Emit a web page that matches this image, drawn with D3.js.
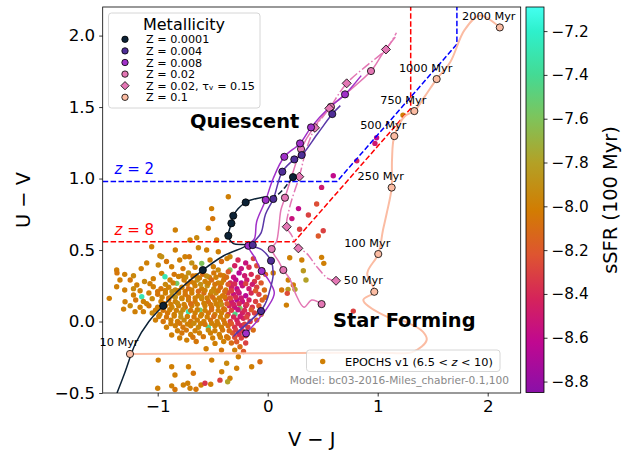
<!DOCTYPE html>
<html><head><meta charset="utf-8">
<script src="https://cdn.jsdelivr.net/npm/d3@7"></script>
<style>body{margin:0;background:#fff}svg{display:block}text{font-family:"DejaVu Sans",sans-serif}</style>
</head><body>
<script>
// ---------- data ----------
const xTicks = [-1, 0, 1, 2];
const yTicks = [-0.5, 0, 0.5, 1, 1.5, 2];
const cbTicks = [-8.8, -8.6, -8.4, -8.2, -8.0, -7.8, -7.6, -7.4, -7.2];
const cbStops = [[-8.85,"#8a10a8"],[-8.62,"#c00890"],[-8.42,"#d5245a"],[-8.22,"#de5530"],[-8.02,"#d27c02"],[-7.8,"#b3a126"],[-7.6,"#7fc35a"],[-7.4,"#44da94"],[-7.2,"#2ef0cc"],[-7.09,"#44fff0"]];

// EPOCHS galaxies: [V-J, U-V, log sSFR]
const galaxies = [
[-0.358,0.873,-8.0],[-0.51,0.79,-8.0],[-0.5,0.72,-8.05],[-0.84,0.64,-8.0],[-0.54,0.652,-8.0],[-0.645,0.586,-7.95],[-0.706,0.57,-8.0],[-0.464,0.57,-8.05],[-0.84,0.5,-8.0],[-0.63,0.516,-7.95],[-0.98,0.46,-8.0],[-0.713,0.453,-8.05],[-1.055,0.523,-8.0],[-0.964,0.453,-7.9],[-0.752,0.453,-8.0],[-0.555,0.5,-8.0],[-0.449,0.488,-8.0],[-0.343,0.453,-7.95],
[-1.1,0.41,-8.0],[-0.92,0.42,-8.05],[-0.80,0.43,-8.0],[-0.69,0.41,-7.9],[-0.6,0.407,-7.6],[-0.524,0.43,-8.0],[-0.42,0.42,-8.1],[-0.37,0.44,-8.0],[-0.27,0.43,-8.4],[-0.2,0.41,-8.55],[-0.13,0.44,-8.3],
[-1.373,0.36,-8.0],[-1.37,0.34,-8.05],[-1.15,0.37,-8.0],[-0.995,0.395,-7.95],[-0.873,0.383,-8.0],[-0.77,0.37,-8.05],[-0.66,0.38,-8.0],[-0.494,0.383,-8.0],[-0.45,0.36,-7.95],[-0.343,0.36,-7.6],[-0.3,0.39,-8.45],[-0.24,0.37,-8.55],[-0.17,0.38,-8.4],[-0.1,0.39,-8.25],[-0.05,0.36,-8.15],
[-1.3,0.33,-8.0],[-1.22,0.32,-7.95],[-0.964,0.337,-8.0],[-0.934,0.313,-7.3],[-0.85,0.33,-8.05],[-0.78,0.32,-8.0],[-0.72,0.34,-7.9],[-0.65,0.32,-8.0],[-0.59,0.33,-8.1],[-0.53,0.31,-8.0],[-0.49,0.34,-8.05],[-0.40,0.32,-8.0],[-0.358,0.348,-8.2],[-0.31,0.31,-8.55],[-0.26,0.34,-8.65],[-0.21,0.32,-8.5],[-0.15,0.33,-8.4],[-0.09,0.31,-8.3],[-0.02,0.33,-8.2],
[-1.343,0.29,-8.0],[-1.25,0.29,-8.05],[-1.19,0.255,-8.0],[-1.12,0.28,-7.95],[-1.04,0.3,-8.0],[-0.888,0.29,-8.0],[-0.827,0.267,-7.55],[-0.76,0.29,-8.0],[-0.7,0.28,-8.05],[-0.64,0.29,-7.9],[-0.57,0.28,-8.0],[-0.51,0.29,-8.1],[-0.45,0.27,-8.0],[-0.4,0.29,-8.05],[-0.34,0.27,-8.4],[-0.29,0.29,-8.6],[-0.24,0.27,-8.65],[-0.19,0.29,-8.5],[-0.12,0.28,-8.35],[-0.06,0.27,-8.2],
[-1.373,0.243,-8.0],[-1.3,0.22,-8.0],[-1.22,0.23,-7.95],[-1.04,0.243,-8.0],[-0.97,0.23,-8.05],[-0.9,0.24,-8.0],[-0.84,0.22,-7.95],[-0.78,0.24,-8.0],[-0.72,0.23,-8.1],[-0.66,0.25,-8.0],[-0.6,0.23,-8.0],[-0.55,0.25,-7.9],[-0.49,0.23,-8.0],[-0.43,0.24,-8.1],[-0.38,0.22,-8.0],[-0.33,0.24,-8.45],[-0.28,0.23,-8.65],[-0.23,0.25,-8.55],[-0.17,0.23,-8.5],[-0.1,0.24,-8.3],[-0.03,0.22,-8.1],
[-1.44,0.162,-8.0],[-1.22,0.185,-8.0],[-1.145,0.173,-7.3],[-1.08,0.2,-8.0],[-1.0,0.19,-8.05],[-0.93,0.2,-8.0],[-0.87,0.18,-7.9],[-0.81,0.2,-8.0],[-0.75,0.19,-8.05],[-0.69,0.2,-8.0],[-0.63,0.18,-8.0],[-0.58,0.2,-8.1],[-0.52,0.19,-8.0],[-0.47,0.2,-7.95],[-0.41,0.18,-8.05],[-0.36,0.2,-8.3],[-0.31,0.19,-8.55],[-0.26,0.2,-8.6],[-0.2,0.18,-8.65],[-0.15,0.2,-8.4],[-0.08,0.19,-8.3],[-0.02,0.17,-8.1],
[-1.297,0.138,-8.0],[-1.2,0.15,-8.05],[-1.13,0.14,-8.0],[-1.05,0.16,-7.95],[-0.97,0.14,-8.0],[-0.9,0.15,-8.05],[-0.84,0.14,-8.0],[-0.78,0.16,-7.9],[-0.72,0.15,-8.0],[-0.66,0.14,-8.05],[-0.6,0.16,-8.0],[-0.54,0.14,-8.1],[-0.48,0.15,-8.0],[-0.43,0.14,-8.0],[-0.38,0.16,-8.3],[-0.33,0.14,-8.5],[-0.28,0.15,-8.65],[-0.23,0.14,-8.55],[-0.17,0.15,-8.45],[-0.11,0.14,-8.3],[-0.05,0.15,-8.15],
[-1.31,0.087,-8.0],[-1.25,0.11,-7.95],[-1.16,0.1,-8.0],[-1.08,0.11,-8.05],[-1.0,0.1,-8.0],[-0.93,0.11,-8.0],[-0.87,0.1,-7.95],[-0.81,0.11,-8.0],[-0.75,0.1,-8.05],[-0.69,0.11,-8.0],[-0.615,0.08,-7.55],[-0.57,0.11,-8.0],[-0.51,0.1,-8.05],[-0.45,0.11,-8.0],[-0.4,0.09,-8.1],[-0.35,0.11,-8.4],[-0.3,0.1,-8.55],[-0.252,0.092,-7.6],[-0.2,0.11,-8.45],[-0.14,0.1,-8.35],[-0.08,0.11,-8.2],
[-1.206,0.069,-8.0],[-1.13,0.069,-8.0],[-1.05,0.06,-7.95],[-0.98,0.05,-8.0],[-0.91,0.06,-8.05],[-0.85,0.05,-8.0],[-0.79,0.06,-7.9],[-0.72,0.069,-7.3],[-0.66,0.06,-8.0],[-0.6,0.05,-8.0],[-0.54,0.06,-8.05],[-0.48,0.05,-8.0],[-0.42,0.06,-8.0],[-0.36,0.05,-8.3],[-0.297,0.052,-7.45],[-0.23,0.06,-8.45],[-0.18,0.05,-8.4],[-0.12,0.06,-8.3],[-0.06,0.05,-8.1],
[-1.02,0.01,-8.0],[-0.95,0.0,-8.05],[-0.88,0.01,-8.0],[-0.82,0.0,-8.0],[-0.76,0.01,-7.95],[-0.7,0.0,-8.05],[-0.64,0.01,-8.0],[-0.58,0.0,-8.0],[-0.52,0.01,-8.1],[-0.46,0.0,-8.0],[-0.4,0.01,-8.05],[-0.34,0.0,-8.3],[-0.28,0.01,-8.45],[-0.222,0.022,-8.4],[-0.16,0.0,-8.35],[-0.1,0.01,-8.2],
[-0.92,-0.04,-8.0],[-0.84,-0.03,-8.0],[-0.77,-0.04,-8.05],[-0.7,-0.03,-8.0],[-0.63,-0.04,-7.95],[-0.54,-0.04,-7.4],[-0.48,-0.03,-8.0],[-0.42,-0.04,-8.0],[-0.36,-0.03,-8.1],[-0.3,-0.04,-8.35],[-0.24,-0.03,-8.45],[-0.18,-0.04,-8.35],[-0.131,-0.06,-8.1],
[-0.873,-0.094,-8.0],[-0.78,-0.08,-8.05],[-0.7,-0.09,-8.0],[-0.62,-0.08,-8.0],[-0.585,-0.106,-8.05],[-0.52,-0.08,-8.0],[-0.44,-0.09,-8.0],[-0.373,-0.106,-8.05],[-0.32,-0.08,-8.2],[-0.26,-0.09,-8.4],[-0.2,-0.1,-8.3],
[-0.736,-0.13,-8.0],[-0.65,-0.14,-8.05],[-0.479,-0.153,-8.0],[-0.4,-0.14,-8.0],[-0.33,-0.15,-8.1],[-0.282,-0.141,-8.2],[-0.252,-0.176,-8.1],[-0.2,-0.15,-8.3],
[-0.56,-0.19,-8.0],[-0.42,-0.2,-8.05],[-0.3,-0.2,-8.0],[-0.22,-0.21,-8.2],[-0.267,-0.246,-8.0],
[-0.81,0.315,-8.0],[-0.745,0.31,-7.95],[-0.68,0.318,-8.05],[-0.62,0.305,-8.0],[-0.555,0.318,-7.9],[-0.47,0.31,-8.0],[-0.43,0.325,-8.05],[-0.375,0.31,-8.1],
[-1.07,0.265,-8.0],[-0.93,0.26,-7.95],[-0.86,0.27,-8.0],[-0.73,0.262,-8.05],[-0.67,0.27,-8.0],[-0.61,0.26,-7.9],[-0.54,0.268,-8.0],[-0.48,0.26,-8.05],[-0.42,0.27,-8.0],[-0.36,0.26,-8.2],[-0.3,0.262,-8.4],[-0.2,0.265,-8.3],[-0.14,0.26,-8.5],
[-1.16,0.215,-8.0],[-1.0,0.21,-8.05],[-0.93,0.218,-8.0],[-0.87,0.21,-7.9],[-0.81,0.215,-8.0],[-0.75,0.21,-8.05],[-0.69,0.22,-8.0],[-0.63,0.212,-8.1],[-0.57,0.218,-8.0],[-0.51,0.21,-7.95],[-0.45,0.215,-8.05],[-0.39,0.21,-8.1],[-0.33,0.215,-8.3],[-0.27,0.21,-8.5],[-0.11,0.215,-8.2],
[-0.96,0.17,-8.0],[-0.9,0.165,-8.05],[-0.84,0.172,-7.9],[-0.78,0.165,-8.0],[-0.72,0.17,-8.05],[-0.66,0.165,-8.0],[-0.6,0.172,-7.95],[-0.55,0.165,-8.0],[-0.5,0.17,-8.1],[-0.44,0.165,-8.0],[-0.39,0.172,-8.05],[-0.34,0.165,-8.25],[-0.29,0.17,-8.4],[-0.24,0.165,-8.5],
[-1.1,0.125,-8.0],[-0.94,0.125,-8.05],[-0.88,0.12,-8.0],[-0.82,0.128,-7.95],[-0.76,0.12,-8.0],[-0.7,0.125,-8.1],[-0.64,0.12,-8.0],[-0.58,0.128,-8.0],[-0.52,0.12,-8.05],[-0.47,0.125,-8.0],[-0.42,0.12,-7.9],[-0.37,0.125,-8.2],[-0.31,0.12,-8.45],[-0.26,0.125,-8.4],[-0.19,0.12,-8.35],
[-1.02,0.08,-8.0],[-0.95,0.078,-8.05],[-0.89,0.082,-8.0],[-0.83,0.078,-8.0],[-0.77,0.082,-7.95],[-0.7,0.078,-8.05],[-0.64,0.082,-8.0],[-0.57,0.078,-8.0],[-0.51,0.082,-8.1],[-0.45,0.078,-8.0],[-0.39,0.082,-8.05],[-0.33,0.078,-8.3],[-0.27,0.082,-8.55],[-0.21,0.078,-8.4],[-0.15,0.082,-8.2],
[-0.99,0.035,-8.0],[-0.92,0.032,-8.05],[-0.85,0.038,-8.0],[-0.79,0.032,-7.9],[-0.73,0.035,-8.0],[-0.67,0.032,-8.05],[-0.61,0.038,-8.0],[-0.55,0.032,-8.0],[-0.49,0.035,-8.1],[-0.43,0.032,-8.0],[-0.37,0.038,-8.05],[-0.31,0.032,-8.4],[-0.25,0.035,-8.5],[-0.19,0.032,-8.3],
[-0.88,-0.015,-8.0],[-0.8,-0.012,-8.05],[-0.73,-0.018,-8.0],[-0.67,-0.012,-7.95],[-0.61,-0.015,-8.0],[-0.57,-0.02,-8.05],[-0.51,-0.012,-8.0],[-0.45,-0.018,-8.0],[-0.39,-0.012,-8.05],[-0.33,-0.015,-8.2],[-0.27,-0.012,-8.4],[-0.21,-0.018,-8.3],
[-0.82,-0.065,-8.0],[-0.74,-0.06,-8.05],[-0.66,-0.065,-8.0],[-0.54,-0.06,-7.95],[-0.48,-0.065,-8.0],[-0.41,-0.06,-8.05],[-0.35,-0.065,-8.1],[-0.29,-0.06,-8.3],[-0.23,-0.065,-8.35],
[-0.8,-0.115,-8.0],[-0.68,-0.11,-8.05],[-0.5,-0.115,-8.0],[-0.43,-0.11,-8.0],[-0.36,-0.115,-8.05],[-0.3,-0.11,-8.25],[-0.24,-0.115,-8.3],
[-0.995,-0.27,-8.0],[-0.873,-0.316,-8.0],[-0.72,-0.316,-8.0],[-0.676,-0.362,-8.05],[-0.509,-0.27,-8.0],[-0.373,-0.292,-7.95],[-0.282,-0.327,-8.0],[-0.146,-0.316,-8.0],[-0.07,-0.281,-8.1],[-0.418,-0.351,-8.0],[-0.843,-0.374,-8.0],[-0.343,-0.397,-8.0],[-0.434,-0.41,-8.3],
[-1.0,-0.467,-8.0],[-0.873,-0.45,-8.0],[-0.843,-0.475,-8.05],[-0.767,-0.444,-8.0],[-0.727,-0.432,-8.0],[-0.706,-0.467,-8.0],[-0.652,-0.474,-8.05],[-0.606,-0.444,-8.0],[-0.57,-0.432,-8.35],[-0.518,-0.439,-8.0],[-0.364,-0.421,-7.8],
[0.05,0.34,-8.0],[0.127,0.22,-8.05],[0.17,0.115,-8.0],
[0.2,0.446,-8.0],[0.31,0.43,-8.0],[0.49,0.449,-8.0],[0.51,0.407,-8.0],[0.324,0.355,-7.85],[0.348,0.29,-7.8],[0.187,0.29,-8.0],[0.233,0.255,-8.0],[0.185,0.225,-7.85],[0.248,0.225,-7.8],[0.178,0.197,-8.25],[0.778,0.073,-8.3],
[0.445,0.822,-8.25],[0.37,0.745,-8.3],[0.28,0.79,-8.6],[0.22,0.72,-8.55],[0.29,0.645,-8.3],[0.46,0.598,-8.2],[0.505,0.635,-8.3],[0.99,1.285,-8.6],[0.975,1.246,-8.5],[0.81,1.124,-8.45],[0.596,1.02,-8.6],[0.49,0.938,-8.5],[1.23,1.444,-8.0]
];

// Selection boundaries [V-J, U-V]
const boundaryZ2 = [[-1.5,0.98],[0.63,0.98],[1.72,1.94],[1.72,2.2]];
const boundaryZ8 = [[-1.5,0.558],[0.24,0.558],[1.30,1.49],[1.30,2.2]];

// Model tracks (bc03) [V-J, U-V]
const trackZ0001 = [[-1.37,-0.5],[-1.3,-0.36],[-1.2,-0.15],[-1.08,0.0],[-0.95,0.11],[-0.78,0.24],[-0.59,0.36],[-0.4,0.46],[-0.19,0.535],[-0.315,0.547],[-0.358,0.60],[-0.33,0.687],[-0.313,0.74],[-0.2,0.833],[-0.043,0.87]];
const trackZ0001Late = [[-0.043,0.87],[0.075,0.88],[0.185,0.965],[0.23,1.01]];
const markZ0001 = [[-0.95,0.11],[-0.59,0.36],[-0.358,0.60],[-0.33,0.687],[-0.313,0.74],[-0.2,0.833],[0.23,1.01]];
const trackZ004 = [[-0.061,0.073],[-0.31,-0.105],[-0.29,-0.085],[-0.04,0.1],[0.02,0.22],[0.05,0.33],[0.03,0.425],[-0.05,0.5],[-0.136,0.535],[-0.06,0.62],[-0.02,0.75],[0.051,0.857],[0.133,1.048],[0.242,1.134],[0.309,1.164],[0.45,1.31],[0.587,1.451],[0.66,1.51]];
const markZ004 = [[-0.061,0.073],[0.03,0.425],[-0.136,0.535],[0.051,0.857],[0.133,1.048],[0.242,1.134],[0.309,1.164],[0.587,1.451]];
const trackZ008 = [[-0.197,-0.083],[-0.1,0.0],[0.0,0.1],[0.06,0.2],[0.0,0.3],[-0.055,0.353],[-0.12,0.45],[-0.176,0.53],[-0.12,0.58],[-0.1,0.7],[-0.018,0.85],[0.05,1.0],[0.151,1.152],[0.294,1.246],[0.394,1.358],[0.55,1.49],[0.703,1.589],[0.85,1.72]];
const markZ008 = [[-0.197,-0.083],[-0.055,0.353],[-0.176,0.53],[-0.018,0.85],[0.151,1.152],[0.294,1.246],[0.394,1.358],[0.703,1.589]];
const trackZ02 = [[0.49,0.122],[0.4,0.15],[0.33,0.1],[0.25,0.2],[0.2,0.3],[0.142,0.36],[0.1,0.42],[0.036,0.507],[0.08,0.56],[0.1,0.65],[0.12,0.78],[0.157,0.866],[0.22,1.02],[0.303,1.206],[0.42,1.36],[0.575,1.502],[0.72,1.6],[0.939,1.752],[1.05,1.88],[1.16,1.99]];
const markZ02 = [[0.49,0.122],[0.142,0.36],[0.036,0.507],[0.157,0.866],[0.303,1.206],[0.575,1.502],[0.939,1.752]];
const trackZ02dust = [[0.621,0.285],[0.55,0.3],[0.45,0.38],[0.35,0.48],[0.279,0.512],[0.22,0.6],[0.173,0.663],[0.2,0.8],[0.287,1.013],[0.35,1.2],[0.43,1.355],[0.56,1.491],[0.718,1.666],[0.9,1.79],[1.075,1.903],[1.17,2.02]];
const markZ02dust = [[0.621,0.285],[0.279,0.512],[0.173,0.663],[0.287,1.013],[0.43,1.355],[0.56,1.491],[0.718,1.666],[1.075,1.903]];
const trackZ1 = [[-1.252,-0.227],[0.0,-0.222],[1.0,-0.217],[1.32,-0.212],[1.445,-0.129],[1.41,-0.071],[1.248,-0.001],[1.082,0.034],[0.869,0.15],[0.969,0.208],[0.905,0.337],[1.005,0.472],[1.048,0.64],[1.082,0.757],[1.127,0.937],[1.13,1.13],[1.151,1.297],[1.248,1.437],[1.333,1.472],[1.43,1.577],[1.536,1.696],[1.66,1.815],[1.79,2.04],[1.93,2.14],[2.11,2.057]];
const agesZ1 = ["10 Myr","50 Myr","100 Myr","250 Myr","500 Myr","750 Myr","1000 Myr","2000 Myr"];
const markZ1 = [[-1.252,-0.227],[0.969,0.208],[1.005,0.472],[1.127,0.937],[1.151,1.297],[1.333,1.472],[1.536,1.696],[2.11,2.057]];

const legendLabels = ["Z = 0.0001","Z = 0.004","Z = 0.008","Z = 0.02","Z = 0.02, τ\u1d65 = 0.15","Z = 0.1"];
const legendColors = ["#0c2236","#4f2e97","#a030c8","#e377b4","#e377b4","#fbbca3"];

// ---------- drawing ----------
const W = 627, H = 453;
const svg = d3.select("body").append("svg").attr("width", W).attr("height", H);
const L = 102.7, R = 520.7, T = 7, B = 393;
const x = d3.scaleLinear().domain([-1.5, 2.3]).range([L, R]);
const y = d3.scaleLinear().domain([-0.5, 2.2]).range([B, T]);
const cbY = d3.scaleLinear().domain([-8.85, -7.09]).range([392.5, 7]);
const color = d3.scaleLinear().domain(cbStops.map(d => d[0])).range(cbStops.map(d => d[1])).clamp(true);

const defs = svg.append("defs");
defs.append("clipPath").attr("id", "clip").append("rect").attr("x", L).attr("y", T).attr("width", R - L).attr("height", B - T);
const plot = svg.append("g").attr("clip-path", "url(#clip)");

// galaxies
plot.append("g").selectAll("circle").data(galaxies).join("circle")
  .attr("cx", d => x(d[0])).attr("cy", d => y(d[1])).attr("r", 2.7)
  .attr("fill", d => color(d[2]));

const line = d3.line().x(d => x(d[0])).y(d => y(d[1]));
// boundaries
plot.append("path").attr("d", line(boundaryZ2)).attr("fill", "none").attr("stroke", "#0000ff").attr("stroke-width", 1.5).attr("stroke-dasharray", "5.5,2.4");
plot.append("path").attr("d", line(boundaryZ8)).attr("fill", "none").attr("stroke", "#ff0000").attr("stroke-width", 1.5).attr("stroke-dasharray", "5.5,2.4");

// tracks
const lineC = d3.line().x(d => x(d[0])).y(d => y(d[1])).curve(d3.curveCatmullRom.alpha(0.5));
function track(pts, col, dash, w) {
  plot.append("path").attr("d", lineC(pts)).attr("fill", "none").attr("stroke", col)
    .attr("stroke-width", w || 1.5).attr("stroke-dasharray", dash || null).attr("stroke-linejoin", "round");
}
track(trackZ1, "#fbbca3", null, 2);
track(trackZ02dust, "#e377b4", "9.6,2.4,1.5,2.4");
track(trackZ02, "#e377b4");
track(trackZ008, "#a030c8");
track(trackZ004, "#5a38a8");
track(trackZ0001, "#0c2236");
track(trackZ0001Late, "#0c2236", "5.5,2.4");

function circles(pts, col) {
  plot.append("g").selectAll("circle").data(pts).join("circle")
    .attr("cx", d => x(d[0])).attr("cy", d => y(d[1])).attr("r", 3.6)
    .attr("fill", col).attr("stroke", "#000").attr("stroke-width", 0.8);
}
const diamond = d3.symbol().type(d3.symbolDiamond2).size(52);
function diamonds(pts, col) {
  plot.append("g").selectAll("path").data(pts).join("path")
    .attr("transform", d => `translate(${x(d[0])},${y(d[1])})`).attr("d", diamond)
    .attr("fill", col).attr("stroke", "#000").attr("stroke-width", 0.8);
}
circles(markZ1, "#fbbca3");
circles(markZ02, "#e377b4");
diamonds(markZ02dust, "#e377b4");
circles(markZ008, "#a030c8");
circles(markZ004, "#4f2e97");
circles(markZ0001, "#0c2236");

// age labels
svg.append("g").selectAll("text").data(markZ1).join("text")
  .attr("x", d => x(d[0]) - 11).attr("y", d => y(d[1]) - 7.5)
  .attr("text-anchor", "middle").attr("font-size", 11.3).attr("fill", "#000")
  .text((d, i) => agesZ1[i]);

// z labels
function zLabel(yy, col, num) {
  const t = svg.append("text").attr("x", 114.5).attr("y", y(yy) - 7).attr("font-size", 15).attr("fill", col);
  t.append("tspan").attr("font-style", "italic").text("z");
  t.append("tspan").text(" = " + num);
}
zLabel(0.98, "#0000ff", "2");
zLabel(0.558, "#ff0000", "8");

// region labels
svg.append("text").attr("x", 190).attr("y", 127.5).attr("font-size", 19.4).attr("font-weight", "bold").text("Quiescent");
svg.append("text").attr("x", 333).attr("y", 327).attr("font-size", 19.4).attr("font-weight", "bold").text("Star Forming");

// axes
const ax = svg.append("g").attr("transform", `translate(0,${B})`)
  .call(d3.axisBottom(x).tickValues(xTicks).tickFormat(d3.format("d")).tickSizeOuter(0).tickSize(3.5).tickPadding(4));
const ay = svg.append("g").attr("transform", `translate(${L},0)`)
  .call(d3.axisLeft(y).tickValues(yTicks).tickFormat(d3.format(".1f")).tickSizeOuter(0).tickSize(3.5).tickPadding(4));
[ax, ay].forEach(a => {
  a.select(".domain").remove();
  a.selectAll("text").attr("font-size", 16.7).attr("font-family", "DejaVu Sans").attr("fill", "#000");
  a.selectAll("line").attr("stroke", "#000").attr("stroke-width", 0.8);
});
svg.append("rect").attr("x", L).attr("y", T).attr("width", R - L).attr("height", B - T)
  .attr("fill", "none").attr("stroke", "#000").attr("stroke-width", 0.8);

svg.append("text").attr("x", (L + R) / 2).attr("y", 446).attr("text-anchor", "middle").attr("font-size", 19.4).text("V − J");
svg.append("text").attr("transform", `translate(30,${(T + B) / 2}) rotate(-90)`).attr("text-anchor", "middle").attr("font-size", 19.4).text("U − V");

// legend (metallicity)
const lg = svg.append("g");
lg.append("rect").attr("x", 108.5).attr("y", 13).attr("width", 151.5).attr("height", 95).attr("rx", 3)
  .attr("fill", "#fff").attr("fill-opacity", 0.8).attr("stroke", "#cccccc").attr("stroke-width", 0.8);
lg.append("text").attr("x", 184).attr("y", 30).attr("text-anchor", "middle").attr("font-size", 16).text("Metallicity");
legendLabels.forEach((lab, i) => {
  const yy = 39.3 + i * 11.6;
  if (i === 4) {
    lg.append("path").attr("transform", `translate(125,${yy})`).attr("d", d3.symbol().type(d3.symbolDiamond2).size(44))
      .attr("fill", legendColors[i]).attr("stroke", "#000").attr("stroke-width", 0.8);
  } else {
    lg.append("circle").attr("cx", 125).attr("cy", yy).attr("r", 3.2).attr("fill", legendColors[i]).attr("stroke", "#000").attr("stroke-width", 0.8);
  }
  lg.append("text").attr("x", 146).attr("y", yy + 4).attr("font-size", 11.2).text(lab);
});

// legend (data)
const lg2 = svg.append("g");
lg2.append("rect").attr("x", 306.5).attr("y", 350).attr("width", 193.5).attr("height", 21.5).attr("rx", 3)
  .attr("fill", "#fff").attr("fill-opacity", 0.8).attr("stroke", "#cccccc").attr("stroke-width", 0.8);
lg2.append("circle").attr("cx", 322.7).attr("cy", 361.5).attr("r", 2.7).attr("fill", color(-8.0));
const lt = lg2.append("text").attr("x", 345).attr("y", 365.5).attr("font-size", 11.3);
lt.append("tspan").text("EPOCHS v1 (6.5 < ");
lt.append("tspan").attr("font-style", "italic").text("z");
lt.append("tspan").text(" < 10)");
svg.append("text").attr("x", 509).attr("y", 384).attr("text-anchor", "end").attr("font-size", 10.6).attr("fill", "#888")
  .text("Model: bc03-2016-Miles_chabrier-0.1,100");

// colorbar
const cbx = 526, cbw = 18;
const grad = defs.append("linearGradient").attr("id", "cbg").attr("x1", 0).attr("y1", 1).attr("x2", 0).attr("y2", 0);
cbStops.forEach(s => grad.append("stop").attr("offset", (s[0] + 8.85) / 1.76).attr("stop-color", s[1]));
svg.append("rect").attr("x", cbx).attr("y", 7).attr("width", cbw).attr("height", 385.5).attr("fill", "url(#cbg)")
  .attr("stroke", "#000").attr("stroke-width", 0.8);
const cax = svg.append("g").attr("transform", `translate(${cbx + cbw},0)`)
  .call(d3.axisRight(cbY).tickValues(cbTicks).tickFormat(d3.format(".1f")).tickSize(3.5).tickPadding(4));
cax.select(".domain").remove();
cax.selectAll("text").attr("font-size", 15.3).attr("font-family", "DejaVu Sans").attr("fill", "#000");
cax.selectAll("line").attr("stroke", "#000").attr("stroke-width", 0.8);
svg.append("text").attr("transform", `translate(617,200) rotate(-90)`).attr("text-anchor", "middle").attr("font-size", 19.4).text("sSFR (100 Myr)");
</script>
</body></html>
